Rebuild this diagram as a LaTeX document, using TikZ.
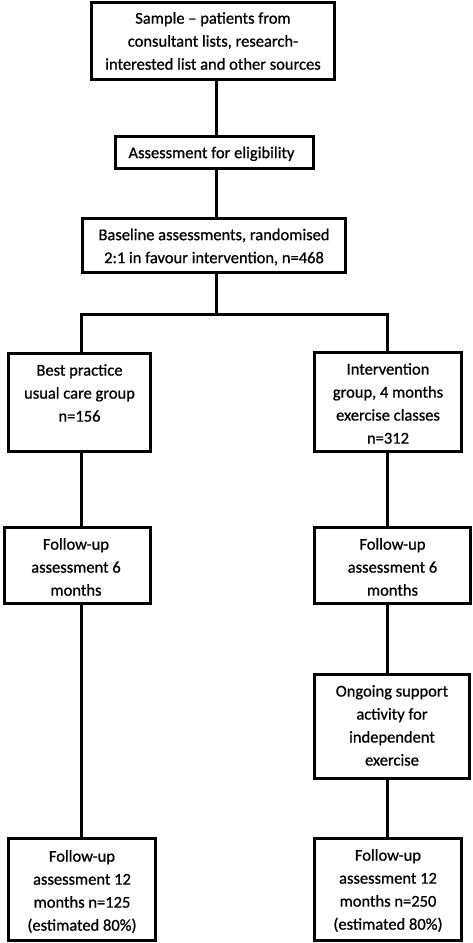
\documentclass[tikz,border=0pt]{standalone}
\usepackage{fontspec}
\setmainfont[FakeBold=0.8]{Carlito}
\begin{document}
\begin{tikzpicture}[x=1pt,y=-1pt,
  box/.style={draw=black, line width=3pt, rectangle, inner sep=0pt},
  txt/.style={align=center, font=\fontsize{16.5}{23}\selectfont, inner sep=0pt, anchor=north},
  link/.style={draw=black, line width=3pt}]
\useasboundingbox (0,0) rectangle (473,943);
% boxes
\node[box, minimum width=243pt, minimum height=77pt] (b1) at (213,41) {};
\node[box, minimum width=198pt, minimum height=32pt] (b2) at (214.5,152.5) {};
\node[box, minimum width=263pt, minimum height=54pt] (b3) at (214,245.5) {};
\node[box, minimum width=142pt, minimum height=98pt] (lg) at (79.5,402.5) {};
\node[box, minimum width=147pt, minimum height=99pt] (rg) at (388,402) {};
\node[box, minimum width=146pt, minimum height=76pt] (l6) at (77.5,565.5) {};
\node[box, minimum width=156pt, minimum height=76pt] (r6) at (392.5,565.5) {};
\node[box, minimum width=155pt, minimum height=104pt] (og) at (392,726.5) {};
\node[box, minimum width=147pt, minimum height=102pt] (l12) at (82,889.5) {};
\node[box, minimum width=147pt, minimum height=102pt] (r12) at (388,889.5) {};
% texts
\node[txt] (b1t) at ([yshift=-11pt]b1.north) {Sample – patients from\\consultant lists, research-\\interested list and other sources};
\node[txt] (b2t) at ([yshift=-11.5pt,xshift=-3pt]b2.north) {Assessment for eligibility};
\node[txt] (b3t) at ([yshift=-11.5pt]b3.north) {Baseline assessments, randomised\\2:1 in favour intervention, n=468};
\node[txt] (lgt) at ([yshift=-12pt]lg.north) {Best practice\\usual care group\\n=156};
\node[txt] (rgt) at ([yshift=-12pt]rg.north) {Intervention\\group, 4 months\\exercise classes\\n=312};
\node[txt] (l6t) at ([yshift=-12pt,xshift=-1.5pt]l6.north) {Follow-up\\assessment 6\\months};
\node[txt] (r6t) at ([yshift=-12pt]r6.north) {Follow-up\\assessment 6\\months};
\node[txt] (ogt) at ([yshift=-12pt]og.north) {Ongoing support\\activity for\\independent\\exercise};
\node[txt] (l12t) at ([yshift=-13pt]l12.north) {Follow-up\\assessment 12\\months n=125\\(estimated 80\%)};
\node[txt] (r12t) at ([yshift=-12pt]r12.north) {Follow-up\\assessment 12\\months n=250\\(estimated 80\%)};
% connectors
\coordinate (trunk) at (216,0);
\coordinate (lx) at (81,0);
\coordinate (rx) at (387,0);
\coordinate (split) at (216,314);
\draw[link] (b1.south -| trunk) -- (b2.north -| trunk);
\draw[link] (b2.south -| trunk) -- (b3.north -| trunk);
\draw[link] (b3.south -| trunk) -- (split);
\draw[link] (lg.north -| lx) |- (split) -| (rg.north -| rx);
\draw[link] (lg.south -| lx) -- (l6.north -| lx);
\draw[link] (l6.south -| lx) -- (l12.north -| lx);
\draw[link] (rg.south -| rx) -- (r6.north -| rx);
\draw[link] (r6.south -| rx) -- (og.north -| rx);
\draw[link] (og.south -| rx) -- (r12.north -| rx);
\end{tikzpicture}
\end{document}
